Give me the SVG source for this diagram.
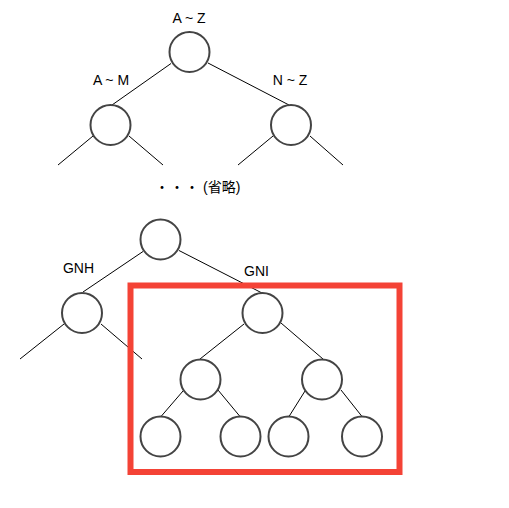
<svg xmlns="http://www.w3.org/2000/svg" width="509" height="508" viewBox="0 0 509 508">
<style>
.n{fill:#fff;stroke:#444;stroke-width:2}
.e{stroke:#000;stroke-width:1;fill:none}
.t{font-family:"Liberation Sans",Arial,sans-serif;font-size:14px;fill:#000;text-anchor:middle}
</style>
<rect width="509" height="508" fill="#fff"/>
<g id="connectors">
<line class="e" x1="171" y1="63.5" x2="112" y2="105"/>
<line class="e" x1="208" y1="63" x2="289" y2="105"/>
<line class="e" x1="93" y1="136" x2="58" y2="165"/>
<line class="e" x1="129" y1="136" x2="163" y2="165"/>
<line class="e" x1="273" y1="136" x2="238" y2="165"/>
<line class="e" x1="310" y1="136" x2="343" y2="165"/>
<line class="e" x1="143" y1="251.5" x2="83" y2="292"/>
<line class="e" x1="179" y1="250.5" x2="262" y2="293"/>
<line class="e" x1="64" y1="324" x2="20" y2="359"/>
<line class="e" x1="101" y1="324" x2="142" y2="359"/>
<line class="e" x1="244" y1="324" x2="200" y2="359"/>
<line class="e" x1="281" y1="323" x2="323" y2="359"/>
<line class="e" x1="183" y1="391" x2="161" y2="416.5"/>
<line class="e" x1="218" y1="390" x2="240" y2="416.5"/>
<line class="e" x1="305" y1="391" x2="289" y2="416.5"/>
<line class="e" x1="341" y1="390" x2="362" y2="416.5"/>
</g>
<g id="root1"><circle class="n" cx="189.5" cy="52" r="20"/><text class="t" x="189" y="22.5">A ~ Z</text></g>
<g id="am"><circle class="n" cx="110.5" cy="125" r="20"/><text class="t" x="111" y="85">A ~ M</text></g>
<g id="nz"><circle class="n" cx="291" cy="125" r="20"/><text class="t" x="290" y="85">N ~ Z</text></g>
<g id="omit"><text font-family="'Liberation Sans','Noto Sans CJK JP',sans-serif" font-size="14" y="192"><tspan x="155">・</tspan><tspan x="170">・</tspan><tspan x="185">・</tspan><tspan x="203">(省略)</tspan></text></g>
<g id="root2"><circle class="n" cx="160.5" cy="239.5" r="20"/></g>
<g id="gnh"><circle class="n" cx="82" cy="313" r="20"/><text class="t" x="78.5" y="273">GNH</text></g>
<g id="gni"><circle class="n" cx="262.5" cy="313" r="20"/><text class="t" x="256.5" y="276">GNI</text></g>
<g id="l3a"><circle class="n" cx="200.5" cy="379.5" r="20"/></g>
<g id="l3b"><circle class="n" cx="322" cy="379.5" r="20"/></g>
<g id="l4a"><circle class="n" cx="160.5" cy="436.5" r="20"/></g>
<g id="l4b"><circle class="n" cx="240.5" cy="436.5" r="20"/></g>
<g id="l4c"><circle class="n" cx="288.5" cy="436.5" r="20"/></g>
<g id="l4d"><circle class="n" cx="362" cy="436.5" r="20"/></g>
<g id="highlight"><rect x="130.5" y="285.5" width="269" height="186.5" fill="none" stroke="#f44336" stroke-width="6"/></g>
</svg>
